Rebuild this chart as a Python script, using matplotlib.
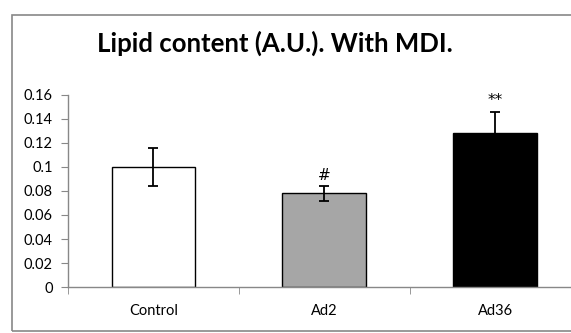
import matplotlib
matplotlib.use("Agg")
import matplotlib.pyplot as plt
from matplotlib.patches import Rectangle

# Lipid content with MDI, Excel-style bar chart
groups = ["Control", "Ad2", "Ad36"]
means = [0.100, 0.078, 0.128]
errors = [0.016, 0.006, 0.018]
marks = ["", "#", "**"]
colors = ["white", "#a6a6a6", "black"]

plt.rcParams["font.family"] = ["Lato", "DejaVu Sans"]

fig = plt.figure(figsize=(5.71, 3.33), dpi=100)
ax = fig.add_axes([0.119, 0.138, 0.898, 0.577])

x = range(len(groups))
ax.bar(x, means, width=0.49, color=colors, edgecolor="black", linewidth=1.0, zorder=2)
ax.errorbar(x, means, yerr=errors, fmt="none", ecolor="black", elinewidth=1.3,
            capsize=3.5, capthick=1.3, zorder=3)
for xi, m, e, s in zip(x, means, errors, marks):
    if s:
        ax.text(xi, m + e + 0.003, s, ha="center", va="bottom", fontsize=11,
                family="DejaVu Sans", clip_on=False)

ax.set_xlim(-0.5, 2.5)
ax.set_ylim(0, 0.16)
ax.set_yticks([0, 0.02, 0.04, 0.06, 0.08, 0.1, 0.12, 0.14, 0.16])
ax.set_yticklabels(["0", "0.02", "0.04", "0.06", "0.08", "0.1", "0.12", "0.14", "0.16"])
ax.set_xticks(list(x))
ax.set_xticklabels(groups)
ax.set_xticks([-0.5, 0.5, 1.5, 2.5], minor=True)
ax.tick_params(axis="x", which="major", length=0, pad=12, labelsize=10.5)
ax.tick_params(axis="x", which="minor", length=5, color="#888888", direction="out")
ax.tick_params(axis="y", length=5, color="#888888", labelsize=10.5, pad=6)

for side in ["top", "right"]:
    ax.spines[side].set_visible(False)
for side in ["left", "bottom"]:
    ax.spines[side].set_color("#888888")
    ax.spines[side].set_linewidth(1.0)

fig.text(0.482, 0.871, "Lipid content (A.U.). With MDI.", ha="center", va="center",
         fontsize=18.5, fontweight="bold")

fig.patches.append(Rectangle((12 / 571, 1 - 331 / 333), 1.2, (331 - 15) / 333,
                             transform=fig.transFigure, fill=False,
                             edgecolor="#888888", linewidth=1.2))

fig.savefig("out.png", dpi=100)
